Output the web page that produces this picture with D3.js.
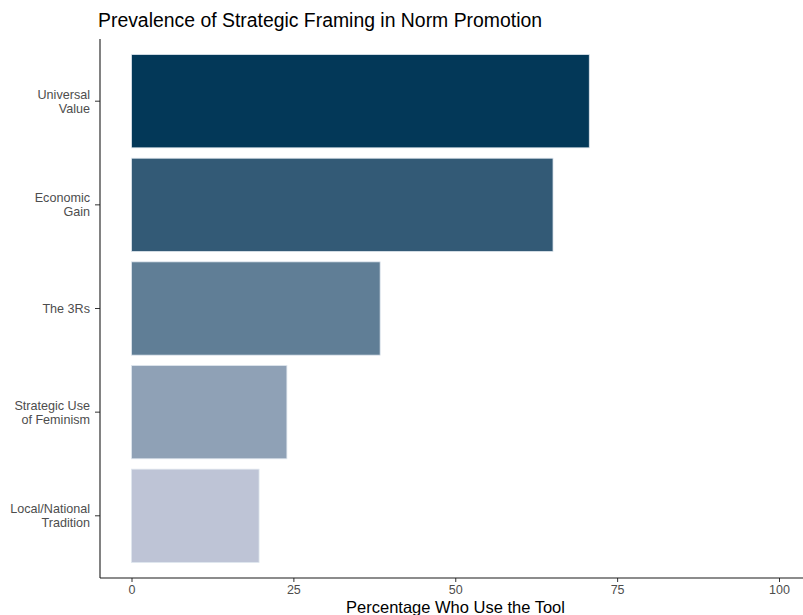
<!DOCTYPE html>
<html lang="en">
<head>
    <meta charset="UTF-8">
    <title>Strategic Framing</title>
    <style>
        body { margin: 0; background: #fff; }
        text { font-family: "Liberation Sans", Arial, sans-serif; }
    </style>
</head>
<body>
<script src="https://d3js.org/d3.v7.min.js"></script>
<script>
    // data
    const categories = ["Universal\nValue", "Economic\nGain", "The 3Rs", "Strategic Use\nof Feminism", "Local/National\nTradition"];
    const values = [70.7, 65.1, 38.4, 24.0, 19.7];
    const colors = ["#033858", "#335a76", "#607e96", "#8fa1b6", "#bec4d6"];
    const xTicks = [0, 25, 50, 75, 100];

    const width = 803, height = 615;
    const panel = {left: 100, right: 803, top: 39, bottom: 578};

    const data = categories.map((c, i) => ({cat: c, value: values[i], color: colors[i]}));

    const svg = d3.select("body").append("svg")
        .attr("width", width)
        .attr("height", height);

    // Scales
    const xScale = d3.scaleLinear()
        .domain([0, 100])
        .range([131.5, 779]);

    const yScale = d3.scaleBand()
        .domain(categories)
        .range([panel.top, panel.bottom])
        .paddingInner(0.1)
        .paddingOuter(0.15);

    // Bars
    svg.selectAll(".bar")
        .data(data)
        .enter().append("rect")
        .attr("class", "bar")
        .attr("x", xScale(0))
        .attr("y", d => yScale(d.cat))
        .attr("width", d => xScale(d.value) - xScale(0))
        .attr("height", yScale.bandwidth())
        .attr("fill", d => d.color)
        .attr("stroke", "#dfe6ee")
        .attr("stroke-width", 0.8);

    // X axis
    const xAxis = svg.append("g")
        .attr("transform", "translate(0," + panel.bottom + ")")
        .call(d3.axisBottom(xScale).tickValues(xTicks).tickSize(4).tickSizeOuter(0));
    xAxis.select(".domain").remove();
    xAxis.selectAll(".tick line").attr("stroke", "#333");
    xAxis.selectAll(".tick text")
        .attr("fill", "#4d4d4d")
        .style("font-size", "12.5px")
        .attr("y", 7);

    // Y axis
    const yAxis = svg.append("g")
        .attr("transform", "translate(" + panel.left + ",0)")
        .call(d3.axisLeft(yScale).tickSize(5).tickSizeOuter(0));
    yAxis.select(".domain").remove();
    yAxis.selectAll(".tick line").attr("stroke", "#333");
    yAxis.selectAll(".tick text").each(function (d) {
        const lines = d.split("\n");
        const t = d3.select(this)
            .text(null)
            .attr("fill", "#4d4d4d")
            .style("font-size", "12.6px")
            .attr("x", -10)
            .attr("dy", null)
            .attr("y", -(lines.length - 1) * 7 + 4.5);
        lines.forEach((l, i) => {
            t.append("tspan")
                .attr("x", -10)
                .attr("dy", i === 0 ? 0 : 14)
                .text(l);
        });
    });

    // Axis lines
    svg.append("line")
        .attr("x1", panel.left).attr("x2", panel.right)
        .attr("y1", panel.bottom).attr("y2", panel.bottom)
        .attr("stroke", "#1a1a1a").attr("stroke-width", 1.1);
    svg.append("line")
        .attr("x1", panel.left).attr("x2", panel.left)
        .attr("y1", panel.top).attr("y2", panel.bottom)
        .attr("stroke", "#1a1a1a").attr("stroke-width", 1.1);

    // Title
    svg.append("text")
        .attr("x", 98)
        .attr("y", 27)
        .style("font-size", "19.4px")
        .attr("fill", "#000")
        .text("Prevalence of Strategic Framing in Norm Promotion");

    // X axis title
    svg.append("text")
        .attr("x", 455.5)
        .attr("y", 613)
        .attr("text-anchor", "middle")
        .style("font-size", "16.5px")
        .attr("fill", "#000")
        .text("Percentage Who Use the Tool");
</script>
</body>
</html>
